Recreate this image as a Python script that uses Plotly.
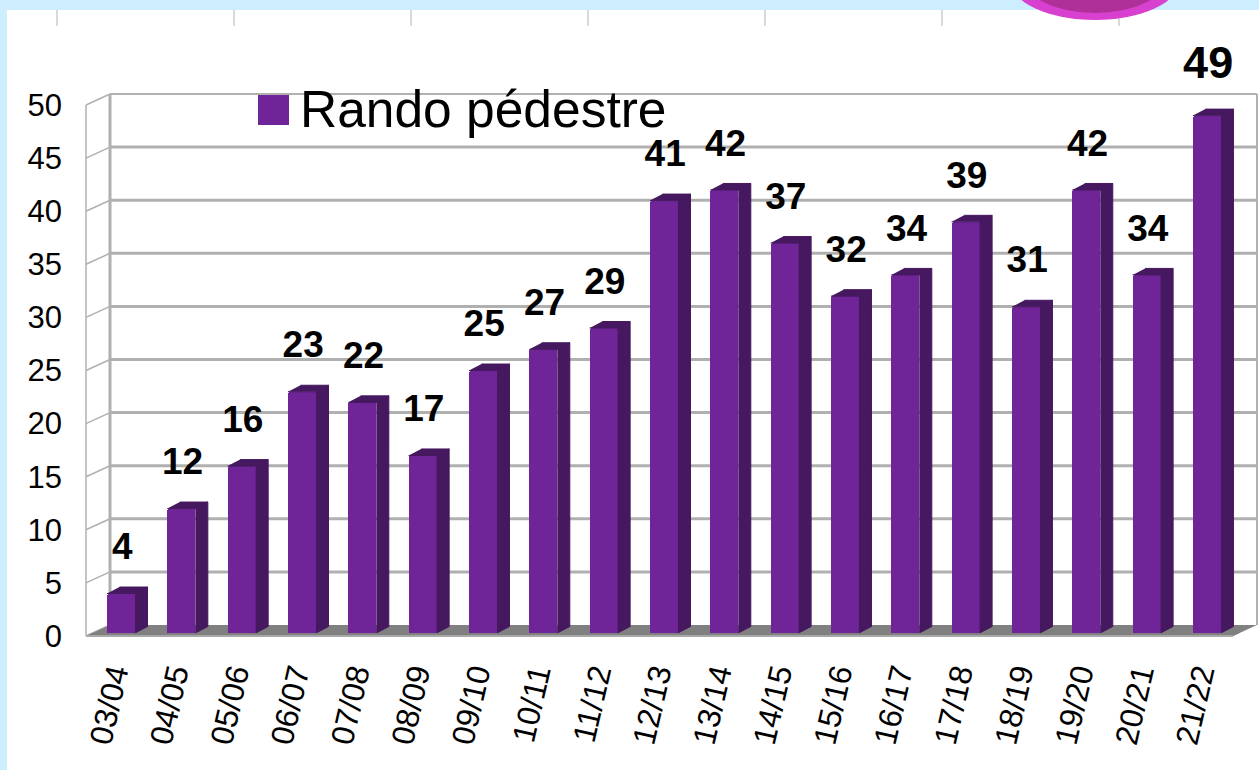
import plotly.graph_objects as go

seasons = ["03/04","04/05","05/06","06/07","07/08","08/09","09/10","10/11","11/12","12/13",
           "13/14","14/15","15/16","16/17","17/18","18/19","19/20","20/21","21/22"]
rando = [4,12,16,23,22,17,25,27,29,41,42,37,32,34,39,31,42,34,49]
y_ticks = [0,5,10,15,20,25,30,35,40,45,50]
series_name = "Rando pédestre"

W, H = 1259, 770
L, R, T, B = 80, 1259, 10, 640      # plot rectangle in pixels
PX_CAT = 60.33
PX_UNIT = 10.62
X0PX, Y0PX = 121, 636               # pixel of category 0 / value 0
xr = [(L-X0PX)/PX_CAT, (R-X0PX)/PX_CAT]
yr = [(Y0PX-B)/PX_UNIT, (Y0PX-T)/PX_UNIT]

FRONT_L = (86-X0PX)/PX_CAT
FRONT_R = (1233-X0PX)/PX_CAT
DX = 24/PX_CAT
DY = 11/PX_UNIT
BAR_W = 28/PX_CAT
SDX = 12.5/PX_CAT
SDY = 6.5/PX_UNIT
BASE = 3/PX_UNIT
TICK_SHIFT = 0.13

PURPLE = "#6f2597"
DARK = "#45185f"
GRID = "#b0b0b0"

def px(x): return (x-L)/(R-L)
def py(y): return (B-y)/(B-T)

shapes = []
def line(x0,y0,x1,y1,w,color=GRID,layer="below"):
    shapes.append(dict(type="line",xref="x",yref="y",x0=x0,y0=y0,x1=x1,y1=y1,
                       line=dict(color=color,width=w),layer=layer))

# page decoration
def prect(x0,y0,x1,y1,color):
    shapes.append(dict(type="rect",xref="paper",yref="paper",x0=px(x0),x1=px(x1),y0=py(y0),y1=py(y1),
                       fillcolor=color,line=dict(width=0),layer="below"))
prect(0,0,W,10,"#cdeeff")
prect(0,0,7,H,"#cdeeff")
for tx in [57,234,411,588,765,942,1119]:
    shapes.append(dict(type="line",xref="paper",yref="paper",x0=px(tx),x1=px(tx),y0=py(10),y1=py(26),
                       line=dict(color="#cccccc",width=1.5),layer="below"))
for cx,cy,rx,ry,c in [(1095,-20,85,40,"#d840d0"),(1095,-22,71,35,"#b0309a")]:
    shapes.append(dict(type="circle",xref="paper",yref="paper",x0=px(cx-rx),x1=px(cx+rx),y0=py(cy+ry),y1=py(cy-ry),
                       fillcolor=c,line=dict(width=0),layer="below"))

# walls and grid
for v in y_ticks:
    top = v == y_ticks[-1]
    line(FRONT_L,v,FRONT_L+DX,v+DY,1.5)
    if v:
        line(FRONT_L+DX,v+DY,FRONT_R+DX,v+DY,2 if top else 3)
line(FRONT_L,0,FRONT_L,y_ticks[-1],1.5)
line(FRONT_L+DX,DY,FRONT_L+DX,y_ticks[-1]+DY,3)
line(FRONT_R+DX,DY,FRONT_R+DX,y_ticks[-1]+DY,2)

# floor
shapes.append(dict(type="path",xref="x",yref="y",layer="below",fillcolor="#808080",line=dict(width=0),
    path=f"M {FRONT_L} 0 L {FRONT_R} 0 L {FRONT_R+DX} {DY} L {FRONT_L+DX} {DY} Z"))
shapes.append(dict(type="path",xref="x",yref="y",layer="above",fillcolor="#808080",line=dict(width=0),
    path=f"M {FRONT_L} 0 L {FRONT_R} 0 L {FRONT_R+BASE*DX/DY} {BASE} L {FRONT_L+BASE*DX/DY} {BASE} Z"))
line(FRONT_L,0,FRONT_R,0,2,color="#a8a8a8",layer="above")

# faces of the bars, projected from the values
sx, sy = [], []
for i,v in enumerate(rando):
    x0, x1 = i-BAR_W/2, i+BAR_W/2
    sx += [x1, x1+SDX, x1+SDX, x1, None]
    sy += [v, v+SDY, BASE+SDY, BASE, None]
    sx += [x0, x1, x1+SDX, x0+SDX, None]
    sy += [v, v, v+SDY, v+SDY, None]

fig = go.Figure()
fig.add_trace(go.Bar(x=list(range(len(seasons))), y=rando, width=BAR_W, name=series_name,
                     marker=dict(color=PURPLE, line=dict(width=0), cornerradius=2), hoverinfo="skip"))
fig.add_trace(go.Scatter(x=sx, y=sy, mode="lines", fill="toself", fillcolor=DARK,
                         line=dict(color=DARK, width=1, shape="linear"), connectgaps=False, hoverinfo="skip"))
fig.add_trace(go.Scatter(x=[i+0.02 for i in range(len(seasons))],
                         y=[v+(4.6 if v == max(rando) else 4.1) for v in rando],
                         mode="text", text=[str(v) for v in rando], textposition="middle center",
                         textfont=dict(family="Liberation Sans", color="#000000",
                                       size=[45 if v == max(rando) else 37 for v in rando],
                                       weight="bold"),
                         cliponaxis=False, hoverinfo="skip"))

# legend key and label
shapes.append(dict(type="rect",xref="paper",yref="paper",x0=px(258),x1=px(289),y0=py(125),y1=py(95),
                   fillcolor=PURPLE,line=dict(width=0),layer="above"))
ann = [dict(xref="paper",yref="paper",x=px(298),y=py(109),text=series_name,showarrow=False,
            xanchor="left",yanchor="middle",font=dict(family="Liberation Sans",size=51.5,color="#000000"))]

fig.update_layout(
    width=W, height=H, autosize=False, showlegend=False,
    margin=dict(l=L,r=W-R,t=T,b=H-B,pad=0),
    paper_bgcolor="#ffffff", plot_bgcolor="rgba(0,0,0,0)",
    shapes=shapes, annotations=ann, bargap=0,
    xaxis=dict(range=xr, tickmode="array", tickvals=[i-TICK_SHIFT for i in range(len(seasons))], ticktext=seasons,
               tickangle=-77, showgrid=False, zeroline=False, showline=False, ticks="",
               ticklabelstandoff=8,
               tickfont=dict(family="Liberation Sans",size=32,color="#000000")),
    yaxis=dict(range=yr, tickmode="array", tickvals=y_ticks, showgrid=False, zeroline=False,
               showline=False, ticks="", ticklabelstandoff=17,
               tickfont=dict(family="Liberation Sans",size=31,color="#000000")),
)
fig.write_html("out.html", post_script="document.body.style.margin='0';document.body.style.overflow='hidden';",
               config=dict(displayModeBar=False))
